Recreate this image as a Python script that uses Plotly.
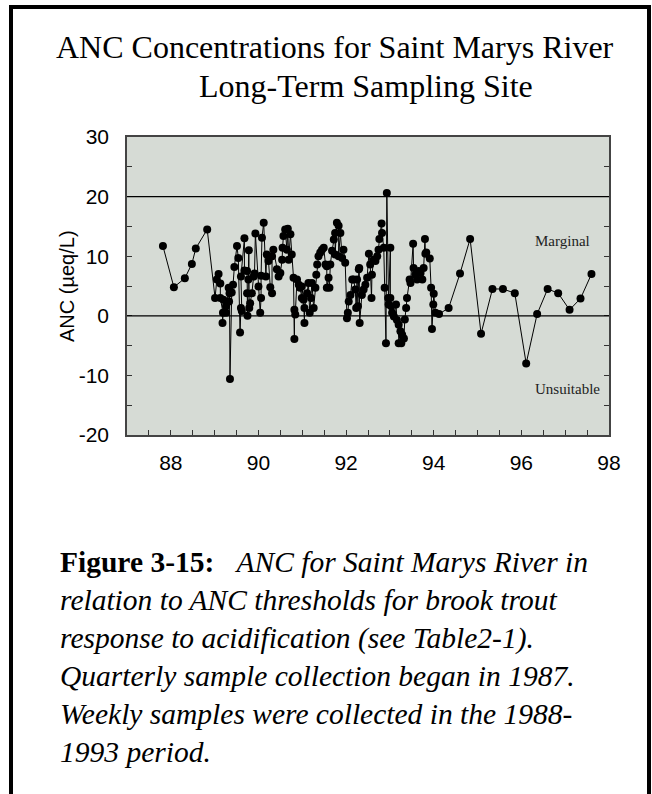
import plotly.graph_objects as go

# sampling dates (decimal years) and ANC values (ueq/L)
years = [
    87.82, 88.07, 88.32, 88.48, 88.57, 88.83,
    89.01, 89.05, 89.09, 89.13, 89.13, 89.19, 89.18, 89.20, 89.26, 89.26,
    89.32, 89.33, 89.34, 89.35, 89.39, 89.42, 89.45, 89.51, 89.54, 89.58,
    89.60, 89.62, 89.60, 89.68, 89.68, 89.74, 89.74, 89.75, 89.77, 89.78,
    89.79, 89.81, 89.85, 89.89, 89.91, 89.93, 90.00, 90.04, 90.06, 90.06,
    90.08, 90.12, 90.17, 90.19, 90.23, 90.27, 90.31, 90.31, 90.34, 90.42,
    90.46, 90.50, 90.54, 90.55, 90.57, 90.61, 90.65, 90.67, 90.69, 90.73,
    90.76, 90.80, 90.82, 90.82, 90.84, 90.88, 90.92, 90.95, 90.99, 90.99,
    91.03, 91.05, 91.05, 91.11, 91.14, 91.17, 91.20, 91.22, 91.26, 91.30,
    91.32, 91.34, 91.37, 91.41, 91.45, 91.49, 91.53, 91.56, 91.56, 91.60,
    91.62, 91.64, 91.68, 91.72, 91.75, 91.75, 91.79, 91.83, 91.83, 91.87,
    91.91, 91.94, 91.98, 92.02, 92.04, 92.06, 92.10, 92.14, 92.17, 92.21,
    92.23, 92.25, 92.27, 92.29, 92.30, 92.31, 92.36, 92.40, 92.44, 92.48,
    92.52, 92.55, 92.58, 92.59, 92.63, 92.67, 92.71, 92.74, 92.76, 92.81,
    92.82, 92.86, 92.88, 92.91, 92.93, 92.96, 92.97, 93.01, 93.01, 93.03,
    93.05, 93.09, 93.14, 93.16, 93.20, 93.20, 93.24, 93.26, 93.28, 93.32,
    93.34, 93.37, 93.39, 93.45, 93.47, 93.53, 93.54, 93.58, 93.62, 93.66,
    93.70, 93.74, 93.77, 93.80, 93.81, 93.83, 93.91, 93.94, 93.96, 93.99,
    94.00, 94.04, 94.12,
    94.34, 94.60, 94.83, 95.08, 95.34, 95.58, 95.85, 96.11, 96.36, 96.60,
    96.84, 97.10, 97.35, 97.60,
]
anc = [
    11.7, 4.8, 6.3, 8.7, 11.3, 14.5,
    3.0, 6.1, 7.0, 5.4, 3.0, 0.5, -1.2, 2.7, 1.6, 0.5,
    4.7, 2.4, 3.8, -10.6, 3.9, 5.2, 8.2, 11.7, 9.7, -2.8,
    1.3, 0.8, 6.6, 13.0, 7.6, 7.5, 3.8, 0.0, 6.1, 11.0,
    1.3, 2.1, 3.8, 6.6, 7.1, 13.8, 4.9, 0.5, 3.0, 6.7,
    13.1, 15.6, 6.6, 10.3, 9.2, 4.8, 3.8, 10.0, 11.1, 7.8,
    6.6, 7.2, 9.4, 11.4, 13.4, 14.5, 11.1, 14.6, 9.4, 13.7,
    10.3, 6.4, -3.9, 1.0, 0.2, 6.1, 5.2, 4.7, 3.0, 4.9,
    2.7, -1.2, 1.3, 3.8, 5.5, 0.5, 3.0, 5.5, 1.3, 4.7,
    6.9, 8.6, 10.0, 10.6, 11.1, 11.4, 8.6, 8.3, 4.7, 6.4,
    4.7, 8.6, 10.9, 12.8, 13.9, 10.3, 15.6, 15.1, 10.0, 13.9,
    9.7, 11.1, 8.9, -0.4, 0.5, 2.4, 3.5, 6.1, 6.1, 4.4,
    1.3, 6.1, 1.6, 7.8, 8.0, -1.2, 3.5, 4.4, 5.2, 6.4,
    10.4, 8.6, 3.0, 6.9, 9.4, 9.2, 10.0, 11.1, 12.9, 15.5,
    13.9, 11.4, 4.7, -4.6, 20.6, 3.0, 1.9, 11.4, 3.0, 1.6,
    0.5, -0.1, 1.9, -0.7, -1.5, -4.6, -2.6, -4.6, -3.2, -3.8,
    -0.6, 1.3, 3.0, 6.1, 5.5, 12.1, 8.0, 6.9, 6.1, 7.5,
    7.2, 6.1, 8.0, 12.9, 10.4, 10.6, 9.6, 4.7, -2.2, 1.9,
    3.7, 0.5, 0.3,
    1.3, 7.1, 12.9, -3.0, 4.5, 4.5, 3.8, -8.0, 0.3, 4.5,
    3.8, 1.0, 2.9, 7.0,
]

y_ticks = [-20, -10, 0, 10, 20, 30]
y_ticktext = ["-20", "-10", "0", "10", "20", "30"]
thresholds = [0, 20]
zone_labels = ["Marginal", "Unsuitable"]
zone_values = [12.6, -12.3]

caption_lines = [
    "<b>Figure 3-15:</b>\u00a0\u00a0 <i>ANC for Saint Marys River in</i>",
    "<i>relation to ANC thresholds for brook trout</i>",
    "<i>response to acidification (see Table2-1).</i>",
    "<i>Quarterly sample collection began in 1987.</i>",
    "<i>Weekly samples were collected in the 1988-</i>",
    "<i>1993 period.</i>",
]

W, H = 652, 794
L, R, T, B = 127, 609, 137, 435  # plot area in pixels


def px(x):
    return (x - L) / (R - L)


def py(y):
    return (B - y) / (B - T)


serif = "Liberation Serif"
sans = "Liberation Sans"

fig = go.Figure()
fig.add_trace(go.Scatter(
    x=years, y=anc, mode="lines+markers",
    line=dict(color="black", width=1),
    marker=dict(color="black", size=8),
    showlegend=False,
))

for t in thresholds:
    fig.add_hline(y=t, line=dict(color="black", width=1.3))

# page frame
fig.add_shape(type="rect", xref="paper", yref="paper",
              x0=px(11), x1=px(649), y0=py(830), y1=py(7),
              line=dict(color="black", width=4))

fig.add_annotation(text="ANC Concentrations for Saint Marys River",
                   xref="paper", yref="paper", x=px(335), y=py(47),
                   xanchor="center", yanchor="middle", showarrow=False,
                   font=dict(family=serif, size=32, color="black"))
fig.add_annotation(text="Long-Term Sampling Site",
                   xref="paper", yref="paper", x=px(366), y=py(86),
                   xanchor="center", yanchor="middle", showarrow=False,
                   font=dict(family=serif, size=32, color="black"))

fig.add_annotation(text="ANC (\u00b5eq/L)", textangle=-90,
                   xref="paper", yref="paper", x=px(67), y=0.5,
                   xanchor="center", yanchor="middle", showarrow=False,
                   font=dict(family=sans, size=20, color="black"))

for lab, val, xc in zip(zone_labels, zone_values, [562, 567]):
    fig.add_annotation(text=lab, xref="paper", yref="y", x=px(xc), y=val,
                       xanchor="center", yanchor="middle", showarrow=False,
                       font=dict(family=serif, size=15, color="#222"))

cap_y = [562, 600, 638, 676, 714, 752]
for line, yy in zip(caption_lines, cap_y):
    fig.add_annotation(text=line, xref="paper", yref="paper",
                       x=px(58), y=py(yy), xanchor="left", yanchor="middle",
                       showarrow=False,
                       font=dict(family=serif, size=29.5, color="black"))

fig.update_xaxes(
    range=[87, 98], dtick=2, tick0=88,
    ticks="inside", ticklen=5, tickcolor="#333",
    minor=dict(dtick=0.5, tick0=87, ticks="inside", ticklen=5, tickcolor="#333"),
    showgrid=False, zeroline=False,
    showline=True, linecolor="#444", linewidth=1.5, mirror=True,
    tickfont=dict(family=sans, size=21, color="black"),
    ticklabelstandoff=8,
)
fig.update_yaxes(
    range=[-20, 30], tickmode="array", tickvals=y_ticks, ticktext=y_ticktext,
    ticks="inside", ticklen=5, tickcolor="#333",
    minor=dict(dtick=5, tick0=0, ticks="inside", ticklen=5, tickcolor="#333"),
    showgrid=False, zeroline=False,
    showline=True, linecolor="#444", linewidth=1.5, mirror="allticks",
    tickfont=dict(family=sans, size=21, color="black"),
    ticklabelstandoff=12,
)
fig.update_layout(
    width=W, height=H,
    margin=dict(l=L, r=W - R, t=T, b=H - B),
    paper_bgcolor="white", plot_bgcolor="#d6dbd5",
)

# drop the browser's default page margin so the figure sits at (0, 0)
fig.write_html("out.html", config={"displayModeBar": False},
               post_script="document.body.style.margin='0';")
